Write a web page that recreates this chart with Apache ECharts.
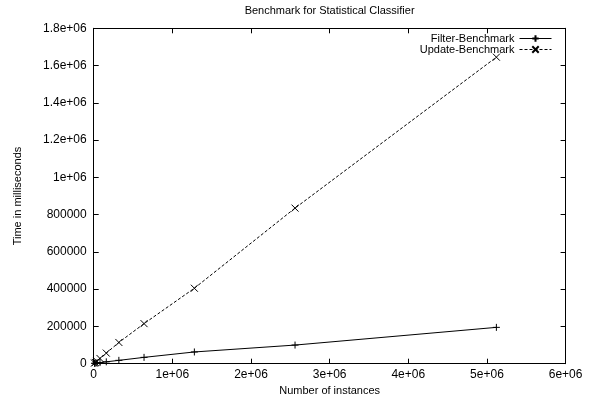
<!DOCTYPE html>
<html><head><meta charset="utf-8">
<script src="https://cdn.jsdelivr.net/npm/echarts@6/dist/echarts.min.js"></script>
<style>html,body{margin:0;padding:0;background:#fff}#c{width:595px;height:403px}</style>
</head><body><div id="c"></div>
<script>
const instances = [10000, 20000, 40000, 80000, 160000, 320000, 640000, 1280000, 2560000, 5120000];
const filterTimes = [2000, 3000, 4000, 6000, 10000, 18000, 34000, 63000, 100000, 195000];
const updateTimes = [3300, 6700, 13500, 28000, 57000, 114000, 215000, 405000, 835000, 1645000];
const xTicks = [0, 1e6, 2e6, 3e6, 4e6, 5e6, 6e6];
const yTicks = [0, 2e5, 4e5, 6e5, 8e5, 1e6, 1.2e6, 1.4e6, 1.6e6, 1.8e6];

function fmt(v){ if (v === 0) return '0'; if (v >= 1e6) return (Math.round(v/1e5)/10) + 'e+06'; return String(v); }
const FONT = 'Liberation Sans';
const plus = 'path://M0,5L10,5M5,0L5,10';
const cross = 'path://M0,0L10,10M10,0L0,10';

const chart = echarts.init(document.getElementById('c'), null, {renderer:'canvas'});
const axisCommon = {
  type:'value', axisLine:{show:true, onZero:false, lineStyle:{color:'#000', width:1}},
  axisTick:{show:true, inside:true, length:5, lineStyle:{color:'#000'}},
  splitLine:{show:false}
};
chart.setOption({
  animation:false,
  backgroundColor:'#fff',
  title:{text:'Benchmark for Statistical Classifier', left:329.6, top:5, padding:0, textAlign:'center',
    textStyle:{fontFamily:FONT, fontSize:11, fontWeight:'normal', color:'#000'}},
  legend:{right:43, top:33, padding:0, orient:'vertical', align:'right', itemWidth:32, itemHeight:8, itemGap:0,
    lineStyle:{width:1},
    textStyle:{fontFamily:FONT, fontSize:11, color:'#000', lineHeight:11},
    data:['Filter-Benchmark','Update-Benchmark']},
  grid:{left:93.7, right:29.4, top:28.3, bottom:39.3, containLabel:false},
  xAxis:[
    Object.assign({}, axisCommon, {min:0, max:6e6, interval:1e6, position:'bottom',
      name:'Number of instances', nameLocation:'middle', nameGap:22,
      nameTextStyle:{fontFamily:FONT, fontSize:11, color:'#000'},
      axisLabel:{fontFamily:FONT, fontSize:12, color:'#000', margin:5, formatter:fmt}}),
    Object.assign({}, axisCommon, {min:0, max:6e6, interval:1e6, position:'top', axisLabel:{show:false}})
  ],
  yAxis:[
    Object.assign({}, axisCommon, {min:0, max:1.8e6, interval:2e5, position:'left',
      name:'Time in milliseconds', nameLocation:'middle', nameGap:70,
      nameTextStyle:{fontFamily:FONT, fontSize:11, color:'#000'},
      axisLabel:{fontFamily:FONT, fontSize:12, color:'#000', margin:7, formatter:fmt}}),
    Object.assign({}, axisCommon, {min:0, max:1.8e6, interval:2e5, position:'right', axisLabel:{show:false}})
  ],
  series:[
    {name:'Filter-Benchmark', type:'line', data:instances.map((x,i)=>[x, filterTimes[i]]),
      symbol:plus, symbolSize:7, showAllSymbol:true,
      lineStyle:{color:'#000', width:1, type:'solid'},
      itemStyle:{color:'#000', borderColor:'#000', borderWidth:1}},
    {name:'Update-Benchmark', type:'line', data:instances.map((x,i)=>[x, updateTimes[i]]),
      symbol:cross, symbolSize:7, showAllSymbol:true,
      lineStyle:{color:'#000', width:1, type:[3,2]},
      itemStyle:{color:'#000', borderColor:'#000', borderWidth:1}}
  ]
});
</script></body></html>
